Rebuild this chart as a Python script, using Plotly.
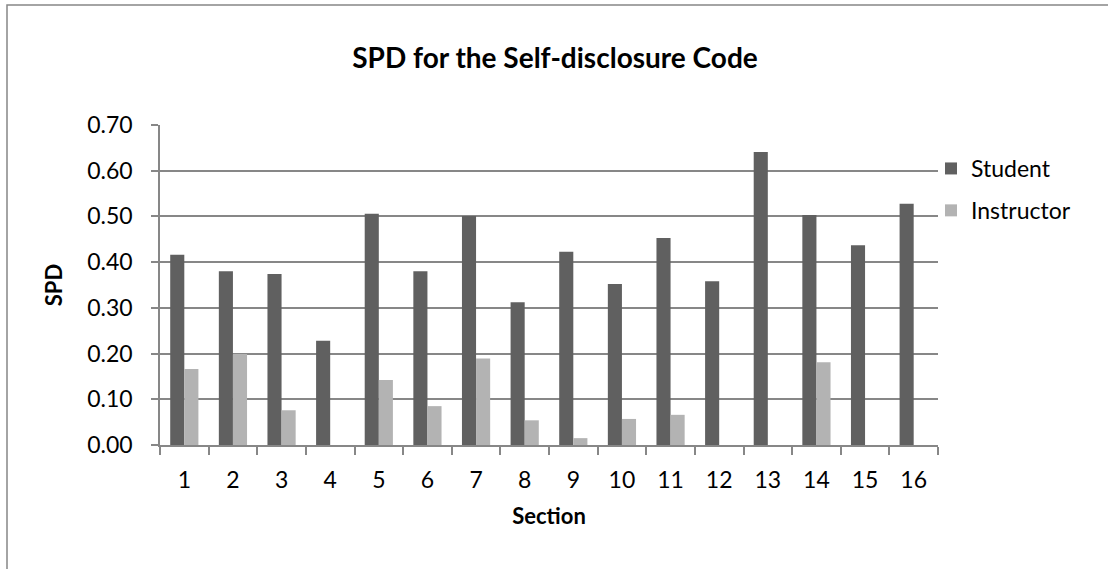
import plotly.graph_objects as go

# Dados do grafico
sections = [str(i) for i in range(1, 17)]
student = [0.416, 0.380, 0.374, 0.228, 0.506, 0.380, 0.501, 0.312,
           0.423, 0.352, 0.453, 0.358, 0.641, 0.503, 0.437, 0.528]
instructor = [0.166, 0.199, 0.076, 0.0, 0.142, 0.085, 0.189, 0.054,
              0.015, 0.057, 0.066, 0.0, 0.0, 0.181, 0.0, 0.0]
y_ticks = [0.0, 0.1, 0.2, 0.3, 0.4, 0.5, 0.6, 0.7]

font_family = "Lato"
grid_color = "#878787"

# area do grafico em pixels
plot_left, plot_right, plot_top, plot_bottom = 160, 938, 125, 445
W, H = 1108, 569

fig = go.Figure()
fig.add_trace(go.Bar(x=sections, y=student, name="Student",
                     marker=dict(color="#606060", line=dict(width=0)),
                     legendgroup="s"))
fig.add_trace(go.Bar(x=sections, y=instructor, name="Instructor",
                     marker=dict(color="#b3b3b3", line=dict(width=0)),
                     legendgroup="i"))

fig.update_layout(
    width=W, height=H,
    margin=dict(l=plot_left, r=W - plot_right, t=plot_top, b=H - plot_bottom),
    paper_bgcolor="white", plot_bgcolor="white",
    barmode="group", bargap=0.42, bargroupgap=0,
    font=dict(family=font_family, size=23, color="black"),
    title=dict(text="<b>SPD for the Self-disclosure Code</b>",
               x=555 / W, xanchor="center", y=1 - 58 / H, yanchor="middle",
               font=dict(size=28)),
    legend=dict(x=(931 - plot_left) / 778, xanchor="left",
                y=1 - (147 - plot_top) / 320, yanchor="top",
                font=dict(size=23), tracegroupgap=9, itemwidth=30,
                bgcolor="rgba(0,0,0,0)"),
    showlegend=True,
)

fig.update_xaxes(
    type="category", tickson="boundaries", ticks="outside", ticklen=8,
    tickcolor=grid_color, tickwidth=1.5,
    showline=True, linecolor=grid_color, linewidth=1.5,
    showgrid=False, ticklabelstandoff=14,
    title=dict(text="<b>Section</b>", font=dict(size=22), standoff=16),
)
fig.update_yaxes(
    range=[0, 0.7], tickvals=y_ticks, tickformat=".2f",
    ticks="outside", ticklen=7, tickcolor=grid_color, tickwidth=1.5,
    showline=True, linecolor=grid_color, linewidth=1.5,
    showgrid=True, gridcolor=grid_color, gridwidth=1.5,
    zeroline=False, ticklabelstandoff=14,
    title=dict(text="<b>SPD</b>", font=dict(size=22), standoff=18),
)

# Moldura do grafico (como no Excel)
fig.add_shape(type="rect", xref="paper", yref="paper",
              x0=(7 - plot_left) / 778, x1=1.5, y0=-1.0,
              y1=(plot_bottom - 5) / 320,
              line=dict(color=grid_color, width=1.5), layer="below")

# tira a margem do body da pagina e a barra de ferramentas
fig.write_html("out.html", config={"displayModeBar": False},
               post_script="document.body.style.margin='0';")
